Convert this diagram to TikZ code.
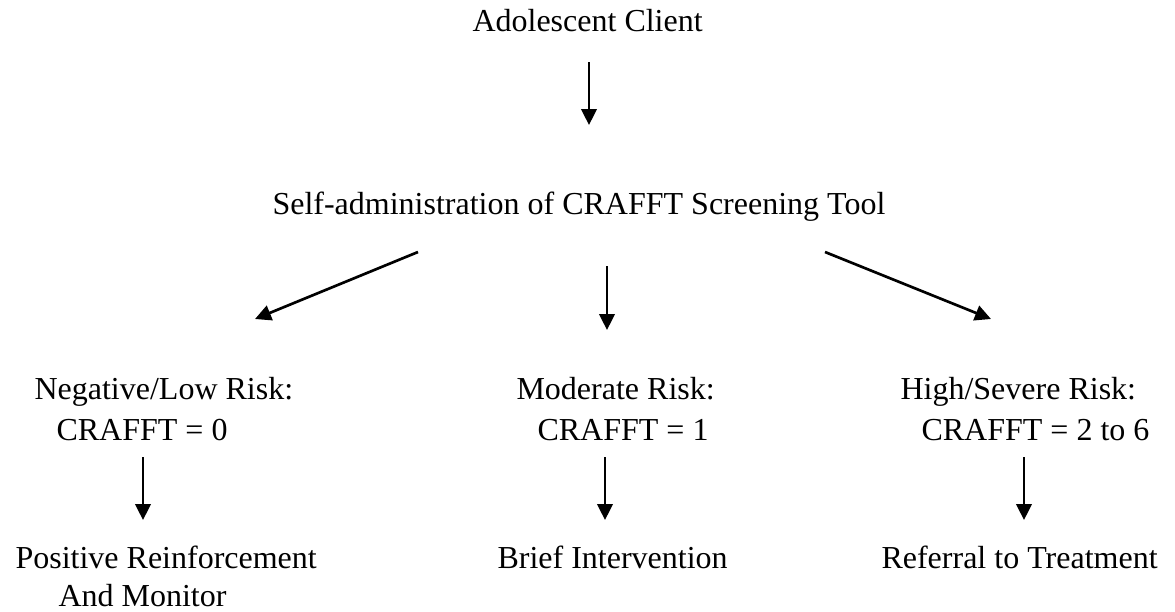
\documentclass[tikz,border=0pt]{standalone}
\usepackage{fontspec}
\setmainfont{Liberation Serif}
\usetikzlibrary{arrows.meta}
\tikzset{
  txt/.style={inner sep=0pt, anchor=base west, font=\fontsize{12}{14}\selectfont},
  arr/.style={-{Triangle[length=6pt,width=5.8pt]}, line width=1pt}
}
\begin{document}
\begin{tikzpicture}[x=0.375pt, y=-0.375pt]
    \useasboundingbox (0,0) rectangle (1175,611);
    % top
    \node[txt] (client) at (472,31) {Adolescent Client};
    \node[txt] (screen) at (272,214) {Self-administration of CRAFFT Screening Tool};
    % risk levels
    \node[txt] (low1) at (34,399) {Negative/Low Risk:};
    \node[txt] (low2) at (56,440) {CRAFFT = 0};
    \node[txt] (mod1) at (516,399) {Moderate Risk:};
    \node[txt] (mod2) at (537,440) {CRAFFT = 1};
    \node[txt] (high1) at (900,399) {High/Severe Risk:};
    \node[txt] (high2) at (921,440) {CRAFFT = 2 to 6};
    % actions
    \node[txt] (posr) at (15,568) {Positive Reinforcement};
    \node[txt] (mon) at (58,606) {And Monitor};
    \node[txt] (brief) at (497,568) {Brief Intervention};
    \node[txt] (refer) at (881,568) {Referral to Treatment};

    \draw[arr] ([shift={(117,31)}]client.base west) -- ([shift={(317,-89)}]screen.base west);
    \draw[arr] ([shift={(146,38)}]screen.base west) -- ([shift={(221,-80)}]low1.base west);
    \draw[arr] ([shift={(335,52)}]screen.base west) -- ([shift={(91,-69)}]mod1.base west);
    \draw[arr] ([shift={(553,38)}]screen.base west) -- ([shift={(91,-80)}]high1.base west);
    \draw[arr] ([shift={(87,17)}]low2.base west) -- ([shift={(128,-48)}]posr.base west);
    \draw[arr] ([shift={(68,17)}]mod2.base west) -- ([shift={(108,-48)}]brief.base west);
    \draw[arr] ([shift={(103,17)}]high2.base west) -- ([shift={(143,-48)}]refer.base west);
\end{tikzpicture}
\end{document}
